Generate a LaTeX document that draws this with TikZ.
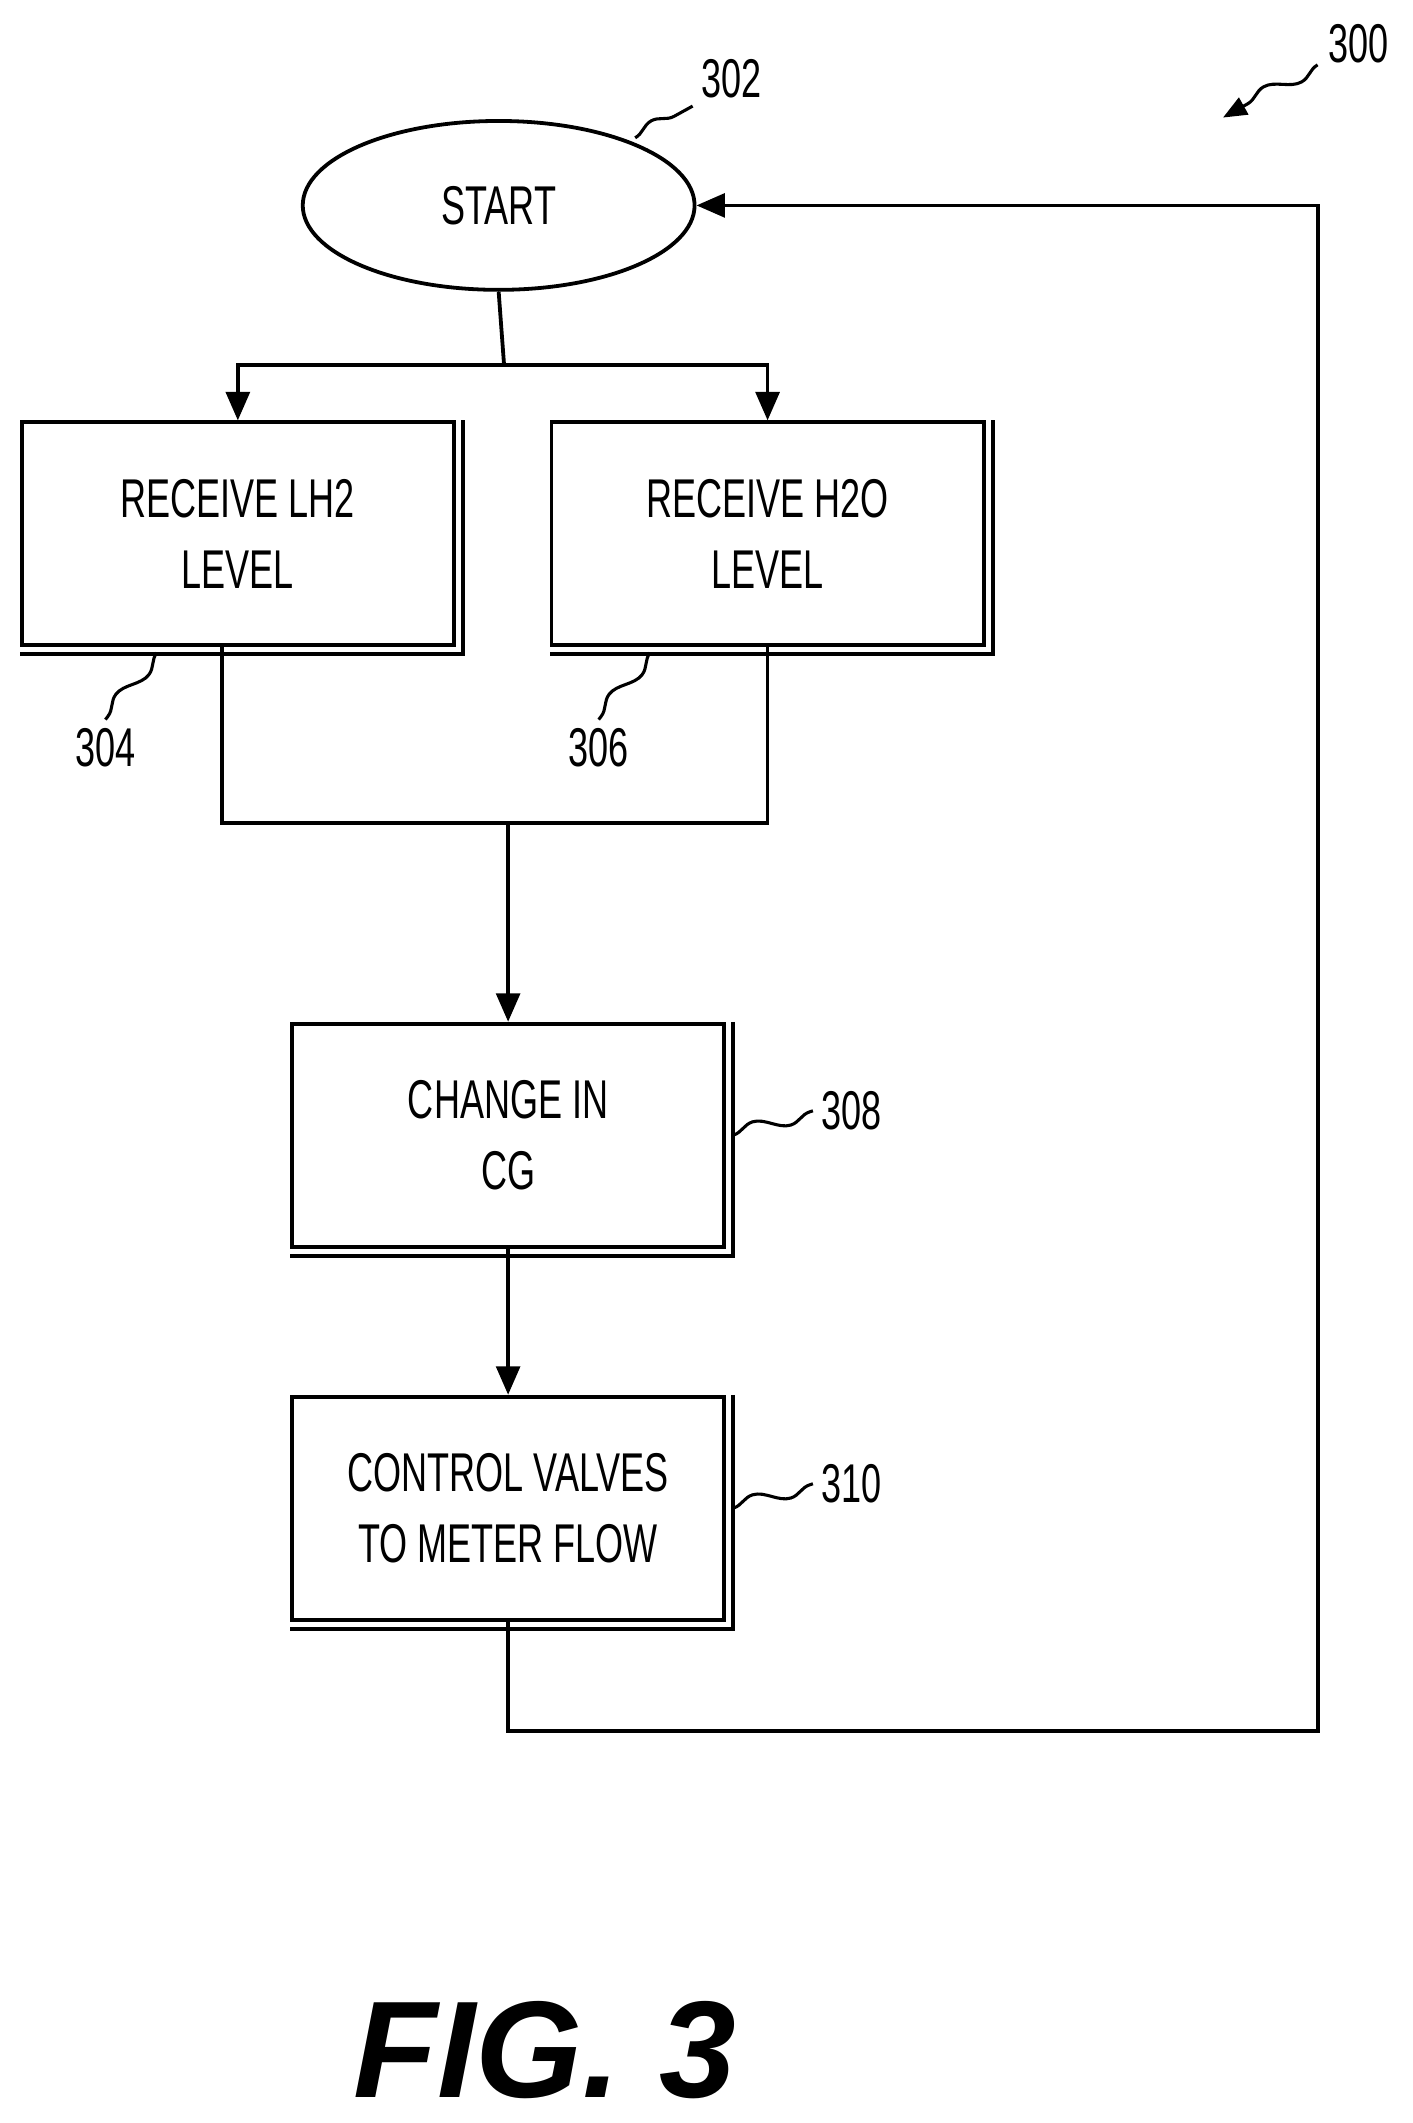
\documentclass[tikz,border=0pt]{standalone}
\usepackage{fontspec}
\setmainfont{Liberation Sans}
\newfontfamily\narrowfont[FakeStretch=0.66]{Liberation Sans}
\usetikzlibrary{shapes.geometric,arrows.meta,decorations.pathmorphing}
\tikzset{
  stage/.style={rectangle,draw,line width=1.6pt,minimum width=6.4cm,minimum height=3.3cm,
    font=\narrowfont\fontsize{23}{30}\selectfont,align=center},
  flow/.style={line width=1.6pt,-{Triangle[length=12pt,width=10pt]}},
  link/.style={line width=1.6pt},
  refnum/.style={font=\narrowfont\fontsize{23}{28}\selectfont},
  lead/.style={line width=1.3pt,decorate,decoration={snake,amplitude=3pt,segment length=30pt}}
}
\begin{document}
\begin{tikzpicture}[x=0.02cm,y=-0.02cm]
\useasboundingbox (0,0) rectangle (1045,1571);
% stages
\node (start) at (369,152) [ellipse,draw,line width=1.6pt,minimum width=5.8cm,minimum height=2.5cm,
  font=\narrowfont\fontsize{23}{30}\selectfont] {START};
\node (lh2) at (176,395) [stage] {RECEIVE LH2\\LEVEL};
\node (h2o) at (568,395) [stage] {RECEIVE H2O\\LEVEL};
\node (cg) at (376,840) [stage] {CHANGE IN\\CG};
\node (valve) at (376,1116) [stage] {CONTROL VALVES\\TO METER FLOW};
% shadows
\foreach \n in {lh2,h2o,cg,valve}
  \draw[line width=1.6pt] ([xshift=3pt]\n.north east) -- ([shift={(3pt,-3pt)}]\n.south east) -- ([yshift=-3pt]\n.south west);
% connectors
\coordinate (split) at (373,270);
\coordinate (merge) at (376,609);
\draw[link] (start.south) -- (split);
\draw[flow] (split) -| (lh2.north);
\draw[flow] (split) -| (h2o.north);
\draw[link] (lh2.south -| 164,0) |- (merge);
\draw[link] (h2o.south) |- (merge);
\draw[flow] (merge) -- (cg.north);
\draw[flow] (cg.south) -- (valve.north);
\coordinate (back) at (975,1281);
\draw[flow] (valve.south) |- (back) |- (start.east);
% reference numerals
\node (n302) at (541,58) [refnum] {302};
\node (n300) at (1005,32) [refnum] {300};
\node (n304) at (78,553) [refnum] {304};
\node (n306) at (443,553) [refnum] {306};
\node (n308) at (630,822) [refnum] {308};
\node (n310) at (630,1098) [refnum] {310};
\draw[lead] (470,102) -- (n302.south west);
\draw[lead,-{Triangle[length=10pt,width=8pt]}] (975,48) -- (905,87);
\draw[lead] (116,483) -- (n304.north);
\draw[lead] (481,483) -- (n306.north);
\draw[lead] (cg.east) ++(3pt,0) -- (n308.west);
\draw[lead] (valve.east) ++(3pt,0) -- (n310.west);
\node (fig) at (403,1517) [font=\bfseries\itshape\fontsize{58}{60}\selectfont] {FIG. 3};
\end{tikzpicture}
\end{document}
